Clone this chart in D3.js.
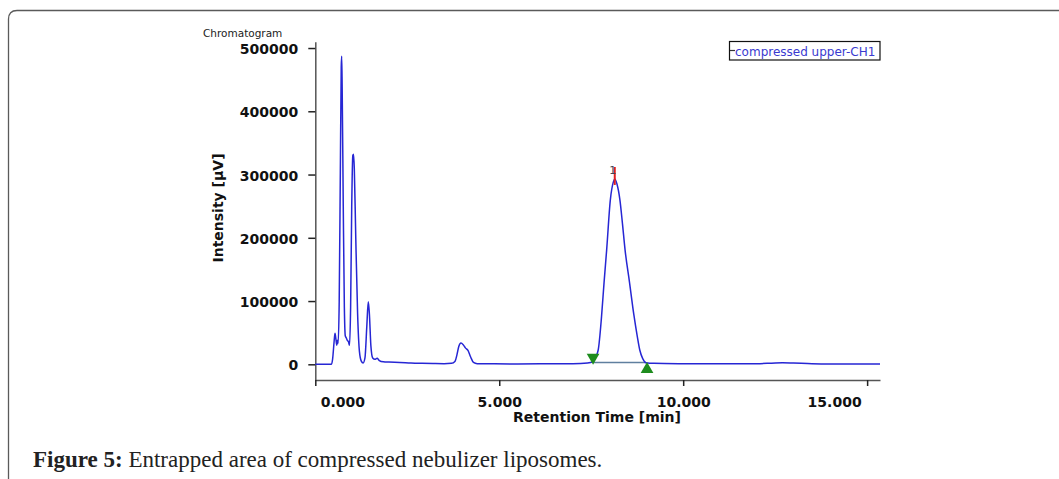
<!DOCTYPE html>
<html>
<head>
<meta charset="utf-8">
<script src="https://cdn.jsdelivr.net/npm/d3@7"></script>
<style>
  html, body { margin: 0; padding: 0; background: #fff; }
  svg { display: block; }
</style>
</head>
<body>
<svg id="chart" width="1059" height="479"></svg>
<script>
// ---- data ----
const timeMin = [0.00,0.44,0.47,0.51,0.535,0.56,0.585,0.60,0.62,0.65,0.68,0.705,0.717,0.73,0.76,0.79,0.815,0.84,0.87,0.90,0.93,0.96,0.99,1.02,1.04,1.06,1.10,1.15,1.20,1.25,1.30,1.35,1.40,1.44,1.47,1.51,1.56,1.62,1.68,1.74,1.85,2.0,2.3,2.6,2.9,3.2,3.5,3.7,3.8,3.85,3.9,3.96,4.02,4.08,4.15,4.22,4.3,4.4,4.8,5.5,6.2,7.0,7.4,7.55,7.62,7.69,7.78,7.85,7.92,8.02,8.10,8.14,8.20,8.28,8.35,8.42,8.54,8.66,8.75,8.82,8.90,8.99,9.2,10.0,11.0,12.0,12.4,12.7,13.0,13.5,14.0,15.0,15.35];
const intensity = [0,0,8000,35000,49000,40000,30000,38000,33000,100000,300000,470000,487000,440000,250000,90000,45000,42000,38000,36000,30000,90000,250000,330000,332000,310000,200000,80000,20000,5000,2000,10000,60000,99000,80000,30000,10000,8000,9500,6000,4000,3500,3000,2000,1500,1200,1000,1500,5000,15000,28000,33500,31000,26000,22000,12000,3000,1000,800,600,800,1000,2000,4000,12000,22600,75000,130000,181000,260000,288000,293000,285000,260000,222000,181000,130000,78000,45000,22600,9000,2500,1500,1000,800,1000,1800,2500,2000,1000,600,500,500];
const xTicks = [0, 5, 10, 15];
const xTickLabels = ["0.000", "5.000", "10.000", "15.000"];
const yTicks = [0, 100000, 200000, 300000, 400000, 500000];
const yTickLabels = ["0", "100000", "200000", "300000", "400000", "500000"];
const peakTime = [8.14];
const peakValue = [293000];
const peakLabels = ["1"];
const peakStart = [7.55, 3000];
const peakEnd = [8.99, 3000];
const seriesName = "compressed upper-CH1";
const chartTitle = "Chromatogram";
const xTitle = "Retention Time [min]";
const yTitle = "Intensity [\u03bcV]";

// ---- layout ----
const svg = d3.select("#chart");
const x = d3.scaleLinear().domain([0, 15.35]).range([315.3, 880]);
const y = d3.scaleLinear().domain([-24800, 510000]).range([380, 41.7]);

// frame
svg.append("path")
  .attr("d", "M8.5,479 L8.5,19 Q8.5,10.5 17,10.5 L1059,10.5")
  .attr("fill", "none").attr("stroke", "#5a5a5a").attr("stroke-width", 1.3);

const axisFont = "'DejaVu Sans', Verdana, sans-serif";

// y axis
const yAxis = svg.append("g").attr("transform", "translate(315.3,0)")
  .call(d3.axisLeft(y).tickValues(yTicks).tickFormat((d, i) => yTickLabels[i]).tickSize(7).tickPadding(10).tickSizeOuter(0));
yAxis.select(".domain").attr("stroke", "#555").attr("stroke-width", 1.5);
yAxis.selectAll(".tick line").attr("stroke", "#222").attr("stroke-width", 1.5);
yAxis.selectAll(".tick text").attr("font-family", axisFont).attr("font-weight", "bold")
  .attr("font-size", 14).attr("fill", "#111").attr("dy", "0.4em");

// x axis
const xAxis = svg.append("g").attr("transform", "translate(0,380)")
  .call(d3.axisBottom(x).tickValues(xTicks).tickFormat((d, i) => xTickLabels[i]).tickSize(6).tickPadding(11).tickSizeOuter(0));
xAxis.select(".domain").attr("stroke", "#555").attr("stroke-width", 1.5);
xAxis.selectAll(".tick line").attr("stroke", "#222").attr("stroke-width", 1.5);
xAxis.selectAll(".tick text").attr("font-family", axisFont).attr("font-weight", "bold")
  .attr("font-size", 14).attr("fill", "#111")
  .attr("text-anchor", (d, i) => i === 0 ? "start" : (i === xTicks.length - 1 ? "end" : "middle"))
  .attr("x", (d, i) => i === 0 ? 5 : (i === xTicks.length - 1 ? -6 : 0));

// titles
svg.append("text").attr("x", 203).attr("y", 37).attr("font-family", axisFont)
  .attr("font-size", 10.5).attr("fill", "#222").text(chartTitle);
svg.append("text").attr("x", 597).attr("y", 422).attr("text-anchor", "middle")
  .attr("font-family", axisFont).attr("font-weight", "bold").attr("font-size", 14).attr("fill", "#111").text(xTitle);
svg.append("text").attr("transform", "translate(223,208) rotate(-90)").attr("text-anchor", "middle")
  .attr("font-family", axisFont).attr("font-weight", "bold").attr("font-size", 14).attr("fill", "#111").text(yTitle);

// baseline of integrated peak
svg.append("line").attr("x1", x(peakStart[0])).attr("y1", y(peakStart[1]))
  .attr("x2", x(peakEnd[0])).attr("y2", y(peakEnd[1]))
  .attr("stroke", "#5f7f9f").attr("stroke-width", 1.5);

// chromatogram line
const line = d3.line().x((d, i) => x(timeMin[i])).y(d => y(d)).curve(d3.curveMonotoneX);
svg.append("path").datum(intensity).attr("d", line)
  .attr("fill", "none").attr("stroke", "#2626d4").attr("stroke-width", 1.5);

// peak marker
svg.append("line").attr("x1", x(peakTime[0])).attr("x2", x(peakTime[0]))
  .attr("y1", y(peakValue[0]) - 12).attr("y2", y(peakValue[0]) + 6)
  .attr("stroke", "#e02020").attr("stroke-width", 2);
svg.append("text").attr("x", x(peakTime[0]) - 2).attr("y", y(peakValue[0]) - 5)
  .attr("text-anchor", "middle").attr("font-family", axisFont).attr("font-size", 11)
  .attr("fill", "#445").text(peakLabels[0]);

// start/end triangles
const tri = d3.symbol().type(d3.symbolTriangle).size(70);
svg.append("path").attr("d", tri)
  .attr("transform", `translate(${x(peakStart[0])},${y(peakStart[1]) - 5}) rotate(180)`)
  .attr("fill", "#1e8c1e");
svg.append("path").attr("d", tri)
  .attr("transform", `translate(${x(peakEnd[0]) + 1},${y(peakEnd[1]) + 7})`)
  .attr("fill", "#1e8c1e");

// legend
const lg = svg.append("g");
lg.append("rect").attr("x", 729.5).attr("y", 41.5).attr("width", 150.5).attr("height", 18.5)
  .attr("fill", "#fff").attr("stroke", "#111").attr("stroke-width", 1.2);
lg.append("line").attr("x1", 730).attr("x2", 735).attr("y1", 50.5).attr("y2", 50.5)
  .attr("stroke", "#333").attr("stroke-width", 1.2);
lg.append("text").attr("x", 735).attr("y", 55.5).attr("font-family", axisFont)
  .attr("font-size", 12).attr("fill", "#3a3ad0").text(seriesName);

// caption
const cap = svg.append("text").attr("x", 33).attr("y", 467)
  .attr("font-family", "'Liberation Serif', 'Times New Roman', serif").attr("font-size", 23).attr("fill", "#222");
cap.append("tspan").attr("font-weight", "bold").text("Figure 5:");
cap.append("tspan").text(" Entrapped area of compressed nebulizer liposomes.");
</script>
</body>
</html>
